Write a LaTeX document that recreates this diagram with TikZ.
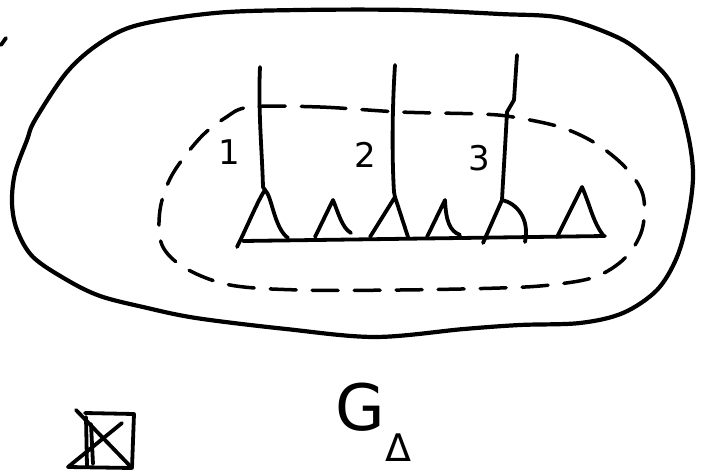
\documentclass[tikz,border=0pt]{standalone}
\usepackage{fontspec}
\setmainfont{DejaVu Sans}
\begin{document}
\begin{tikzpicture}[x=1pt,y=-1pt,
  pen/.style={line width=3.8pt,line cap=round,line join=round},
  dashpen/.style={pen,line width=3.5pt,dash pattern=on 26pt off 16pt},
  lbl/.style={inner sep=0pt,font=\fontsize{34}{34}\selectfont}]
\useasboundingbox (0,0) rectangle (701,473);
% small tick at top-left
\coordinate (t1) at (1,45); \coordinate (t2) at (6,38);
\draw[pen] (t1) -- (t2);
% outer solid boundary
\draw[pen,line width=4.2pt] plot[smooth cycle,tension=0.55] coordinates {
 (35,120) (67,72) (100,43) (138,25) (215,13) (300,10) (408,10) (500,14)
 (562,18) (619,38) (650,60) (669,80) (681,108) (690,145) (693,178) (688,217)
 (677,257) (657,290) (623,313) (580,323) (520,325) (464,329) (375,337)
 (286,329) (196,318) (143,307) (100,296) (67,280) (33,257) (17,230)
 (12,203) (15,173) (27,140)};
% inner dashed boundary
\draw[dashpen] plot[smooth cycle,tension=0.55] coordinates {
 (250,107) (320,107) (400,112) (480,114) (513,117) (560,127) (595,143)
 (625,167) (643,195) (642,230) (625,258) (595,277) (550,285) (500,288)
 (400,290) (300,290) (230,285) (185,268) (162,245) (160,210) (172,175)
 (200,138) (225,118)};
% peaks of the triangles
\coordinate (p1) at (265,190); \coordinate (p2) at (333,200);
\coordinate (p3) at (395,197); \coordinate (p4) at (445,200);
\coordinate (p5) at (502,200); \coordinate (p6) at (582,187);
% vertical lines
\coordinate (v1) at (260,67); \coordinate (v2) at (395,65); \coordinate (v3) at (517,55);
\draw[pen] (v1) .. controls (258,110) and (262,150) .. (263,187) -- (p1);
\draw[pen] (v2) .. controls (392,110) and (392,160) .. (394,192) -- (p3);
\draw[pen] (v3) -- (514,100) -- (507,112) .. controls (505,150) and (503,180) .. (p5);
% labels
\node[lbl] (n1) at (229,152) {1};
\node[lbl] (n2) at (365,155) {2};
\node[lbl] (n3) at (479,158) {3};
% baseline
\coordinate (b1) at (243,241); \coordinate (b2) at (605,236);
\draw[pen] (b1) -- (b2);
% triangles
\draw[pen] (237,247) .. controls (248,225) and (258,200) .. (p1)
  .. controls (272,196) and (274,228) .. (288,238);
\draw[pen] (315,237) -- (p2) .. controls (338,212) and (342,228) .. (351,233);
\draw[pen] (370,237) -- (p3) -- (408,237);
\draw[pen] (427,237) -- (p4) .. controls (446,222) and (450,231) .. (460,235);
\draw[pen] (483,243) -- (p5) .. controls (516,203) and (530,218) .. (525,242);
\draw[pen] (557,237) -- (p6) .. controls (590,205) and (593,222) .. (603,235);
% crossed box
\coordinate (q1) at (85,413); \coordinate (q2) at (134,414);
\coordinate (q3) at (132,468); \coordinate (q4) at (68,467);
\draw[pen] (q1) -- (q2) -- (q3) -- (q4);
\draw[pen] (86,417) -- (87,466);
\draw[pen] (91,424) -- (93,464);
\draw[pen] (76,410) -- (q3);
\draw[pen] (122,423) -- (q4);
% G with triangle
\node[inner sep=0pt,anchor=base,font=\fontsize{64}{64}\selectfont] (G) at (360,430) {G};
\node[inner sep=0pt,anchor=base,font=\fontsize{38}{38}\selectfont] (D) at (398,461) {Δ};
\end{tikzpicture}
\end{document}
